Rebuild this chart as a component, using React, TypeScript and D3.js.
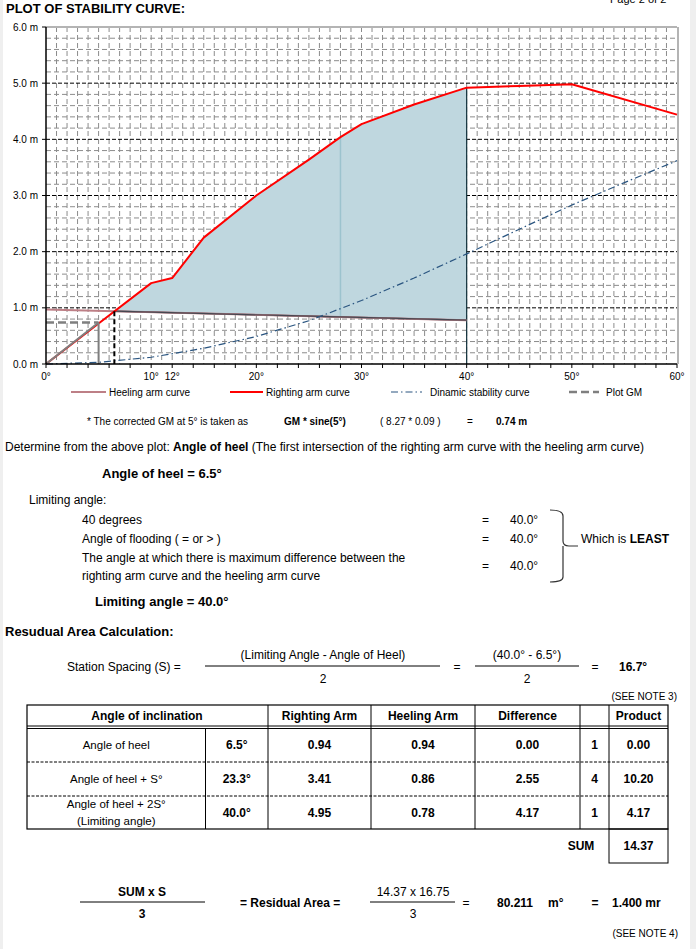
import React from 'react'
import * as d3 from 'd3'

// ---- chart data ----
const rightingAngles = [0, 5, 10, 12, 15, 20, 25, 28, 30, 35, 40, 45, 50, 60]
const rightingArm = [0, 0.72, 1.44, 1.53, 2.25, 3.0, 3.64, 4.04, 4.27, 4.62, 4.92, 4.95, 4.98, 4.44]

const heelingAngles = [0, 6.5, 23.3, 40]
const heelingArm = [0.97, 0.94, 0.86, 0.78]

const dynamicAngles = [0, 5, 10, 15, 20, 25, 30, 35, 40, 45, 50, 55, 60]
const dynamicStability = [0, 0.03, 0.12, 0.28, 0.49, 0.77, 1.13, 1.53, 1.96, 2.4, 2.83, 3.23, 3.62]

const gmAngle = 5
const gmValue = 0.74
const heelAngle = 6.5
const limitAngle = 40
const fillSeamAngle = 28

const xTickLabels = [0, 10, 12, 20, 30, 40, 50, 60]
const yTickLabels = [0, 1, 2, 3, 4, 5, 6]

// ---- table data ----
const rowLabels = [['Angle of heel'], ['Angle of heel + S°'], ['Angle of heel + 2S°', '(Limiting angle)']]
const rowAngles = ['6.5°', '23.3°', '40.0°']
const rowRighting = ['0.94', '3.41', '4.95']
const rowHeeling = ['0.94', '0.86', '0.78']
const rowDiff = ['0.00', '2.55', '4.17']
const rowSimpson = ['1', '4', '1']
const rowProduct = ['0.00', '10.20', '4.17']

const FONT = '"Liberation Sans", Arial, sans-serif'

const App: React.FC = () => {
  const W = 696
  const H = 949
  const x = d3.scaleLinear().domain([0, 60]).range([46, 677])
  const y = d3.scaleLinear().domain([0, 6]).range([364, 27])

  const line = d3
    .line<[number, number]>()
    .x((d) => x(d[0]))
    .y((d) => y(d[1]))

  const zip = (a: number[], b: number[]) => a.map((v, i) => [v, b[i]] as [number, number])
  const righting = zip(rightingAngles, rightingArm)
  const heeling = zip(heelingAngles, heelingArm)
  const dynamic = zip(dynamicAngles, dynamicStability)

  const interp = (xs: number[], ys: number[], t: number) => {
    for (let i = 0; i < xs.length - 1; i++) {
      if (t >= xs[i] && t <= xs[i + 1]) {
        return ys[i] + ((ys[i + 1] - ys[i]) * (t - xs[i])) / (xs[i + 1] - xs[i])
      }
    }
    return ys[ys.length - 1]
  }

  // residual area polygon between the two curves
  const areaTop: [number, number][] = [[heelAngle, interp(rightingAngles, rightingArm, heelAngle)]]
  rightingAngles.forEach((a, i) => {
    if (a > heelAngle && a < limitAngle) areaTop.push([a, rightingArm[i]])
  })
  areaTop.push([limitAngle, interp(rightingAngles, rightingArm, limitAngle)])
  const areaBottom: [number, number][] = heeling.filter((d) => d[0] >= heelAngle && d[0] <= limitAngle).reverse()
  const areaPath = line([...areaTop, ...areaBottom]) + 'Z'

  const minorX = d3.range(1, 60)
  const minorY = d3.range(0.2, 6, 0.2).filter((v) => Math.abs(v - Math.round(v)) > 0.01)
  const majorY = [1, 2, 3, 4, 5]
  const xTicks = d3.range(0, 61, 2)

  const t = (props: any, txt: any) => (
    <text fontFamily={FONT} fill="#000" {...props}>
      {txt}
    </text>
  )

  // table geometry
  const cols = [27, 205.5, 268, 371, 475, 580, 609, 668]
  const rowY = [728, 762, 796, 829]
  const cx = (i: number) => (cols[i] + cols[i + 1]) / 2

  return (
    <div style={{ position: 'absolute', left: 0, top: 0 }}>
      <svg width={W} height={H} style={{ display: 'block' }}>
        <rect x={0} y={0} width={W} height={H} fill="#fff" />
        <rect x={0} y={0} width={3} height={H} fill="#efefef" />
        <rect x={690} y={0} width={6} height={H} fill="#efefef" />

        {t({ x: 610, y: 3, fontSize: 11 }, 'Page 2 of 2')}
        {t({ x: 6, y: 13, fontSize: 13, fontWeight: 'bold' }, 'PLOT OF STABILITY CURVE:')}

        {/* grid */}
        <g>
          {minorX.map((a) => (
            <line key={'vx' + a} x1={x(a)} x2={x(a)} y1={y(6)} y2={y(0)} stroke="#8c8c8c" strokeWidth={1} strokeDasharray="5,3" />
          ))}
          {minorY.map((v) => (
            <line key={'hy' + v} x1={x(0)} x2={x(60)} y1={y(v)} y2={y(v)} stroke="#8c8c8c" strokeWidth={1} strokeDasharray="5,3" />
          ))}
          {majorY.map((v) => (
            <line key={'my' + v} x1={x(0)} x2={x(60)} y1={y(v)} y2={y(v)} stroke="#000" strokeWidth={1} strokeDasharray="4,2" />
          ))}
          <line x1={x(0)} x2={x(60)} y1={y(6)} y2={y(6)} stroke="#b4b4b4" strokeWidth={2} />
          <line x1={x(60) + 1} x2={x(60) + 1} y1={y(6)} y2={y(0)} stroke="#b4b4b4" strokeWidth={2} />
        </g>

        {/* residual area */}
        <path d={areaPath} fill="#bfd7df" />
        <line x1={x(fillSeamAngle)} x2={x(fillSeamAngle)} y1={y(interp(rightingAngles, rightingArm, fillSeamAngle))} y2={y(interp(heelingAngles, heelingArm, fillSeamAngle))} stroke="#9cc3ce" strokeWidth={1.5} />
        <path d={line(areaBottom) || ''} fill="none" stroke="#1c3640" strokeWidth={1.5} />
        <line x1={x(limitAngle)} x2={x(limitAngle)} y1={y(interp(rightingAngles, rightingArm, limitAngle))} y2={y(0)} stroke="#10303a" strokeWidth={1.2} />

        {/* heeling arm */}
        <path d={line(heeling) || ''} fill="none" stroke="#bd7f86" strokeWidth={2} />
        <path d={line(areaBottom) || ''} fill="none" stroke="#2a3a44" strokeWidth={1.2} opacity={0.8} />

        {/* dynamic stability */}
        <path d={line(dynamic) || ''} fill="none" stroke="#2a5580" strokeWidth={1.2} strokeDasharray="7,3,1.5,3" />

        {/* righting arm */}
        <path d={line(righting) || ''} fill="none" stroke="#ff0000" strokeWidth={2} strokeLinejoin="round" />

        {/* plot GM */}
        <line x1={x(0)} x2={x(gmAngle)} y1={y(0)} y2={y(gmValue)} stroke="#7f7f7f" strokeWidth={2} />
        <line x1={x(0)} x2={x(gmAngle)} y1={y(gmValue)} y2={y(gmValue)} stroke="#7f7f7f" strokeWidth={2.5} strokeDasharray="8,4" />
        <line x1={x(gmAngle)} x2={x(gmAngle)} y1={y(gmValue)} y2={y(0)} stroke="#7f7f7f" strokeWidth={2} />

        {/* angle of heel marker */}
        <line x1={x(heelAngle)} x2={x(heelAngle)} y1={y(interp(heelingAngles, heelingArm, heelAngle))} y2={y(0)} stroke="#000" strokeWidth={2} strokeDasharray="5,3" />

        {/* axes */}
        <line x1={x(0)} x2={x(0)} y1={y(6)} y2={y(0)} stroke="#000" strokeWidth={1.5} />
        <line x1={x(0)} x2={x(60)} y1={y(0)} y2={y(0)} stroke="#000" strokeWidth={1.5} />
        {xTicks.map((a) => (
          <line key={'xt' + a} x1={x(a)} x2={x(a)} y1={y(0)} y2={y(0) + 4} stroke="#000" />
        ))}
        {yTickLabels.map((v) => (
          <line key={'yt' + v} x1={x(0) - 4} x2={x(0)} y1={y(v)} y2={y(v)} stroke="#000" />
        ))}
        {xTickLabels.map((a) => (
          <text key={'xl' + a} x={x(a)} y={380} fontSize={10} fontFamily={FONT} textAnchor="middle">
            {a}°
          </text>
        ))}
        {yTickLabels.map((v) => (
          <text key={'yl' + v} x={38} y={y(v) + 3.5} fontSize={10} fontFamily={FONT} textAnchor="end">
            {v.toFixed(1)} m
          </text>
        ))}

        {/* legend */}
        <g fontFamily={FONT} fontSize={10}>
          <line x1={71} x2={106} y1={392} y2={392} stroke="#bd7f86" strokeWidth={2} />
          <text x={109} y={396}>Heeling arm curve</text>
          <line x1={230} x2={263} y1={392} y2={392} stroke="#ff0000" strokeWidth={2} />
          <text x={266} y={396}>Righting arm curve</text>
          <line x1={391} x2={422} y1={392} y2={392} stroke="#2a5580" strokeWidth={1.2} strokeDasharray="7,3,1.5,3" />
          <text x={430} y={396}>Dinamic stability curve</text>
          <line x1={569} x2={599} y1={392} y2={392} stroke="#7f7f7f" strokeWidth={2.5} strokeDasharray="8,4" />
          <text x={606} y={396}>Plot GM</text>
        </g>

        <g fontFamily={FONT} fontSize={10}>
          <text x={87} y={425}>* The corrected GM at 5° is taken as</text>
          <text x={284} y={425} fontWeight="bold">GM * sine(5°)</text>
          <text x={380} y={425}>( 8.27 * 0.09 )</text>
          <text x={467} y={425}>=</text>
          <text x={496} y={425} fontWeight="bold">0.74 m</text>
        </g>

        <g fontFamily={FONT} fontSize={12}>
          <text x={5} y={451}>
            Determine from the above plot: <tspan fontWeight="bold">Angle of heel</tspan> (The first intersection of the righting arm curve with the heeling arm curve)
          </text>
          <text x={102} y={478} fontWeight="bold" fontSize={13}>Angle of heel =  6.5°</text>
          <text x={29} y={504}>Limiting angle:</text>
          <text x={82} y={524}>40 degrees</text>
          <text x={82} y={543}>Angle of flooding ( = or &gt; )</text>
          <text x={82} y={562}>The angle at which there is maximum difference between the</text>
          <text x={82} y={580}>righting arm curve and the heeling arm curve</text>
          <text x={482} y={524}>=</text>
          <text x={482} y={543}>=</text>
          <text x={482} y={570}>=</text>
          <text x={510} y={524}>40.0°</text>
          <text x={510} y={543}>40.0°</text>
          <text x={510} y={570}>40.0°</text>
          <path d="M550,510 Q563,510 563,516 L563,541 Q563,546 569,546 L578,546 M563,546 L563,577 Q563,582 550,582" fill="none" stroke="#333" strokeWidth={1.2} />
          <text x={581} y={543}>
            Which is <tspan fontWeight="bold">LEAST</tspan>
          </text>
          <text x={95} y={606} fontWeight="bold" fontSize={13}>Limiting angle =  40.0°</text>
        </g>

        <g fontFamily={FONT} fontSize={12}>
          <text x={5} y={636} fontWeight="bold" fontSize={13}>Resudual Area Calculation:</text>
          <text x={67} y={671}>Station Spacing (S) =</text>
          <line x1={205} x2={440} y1={666} y2={666} stroke="#000" />
          <text x={323} y={659} textAnchor="middle">(Limiting Angle - Angle of Heel)</text>
          <text x={323} y={683} textAnchor="middle">2</text>
          <text x={457} y={671} textAnchor="middle">=</text>
          <line x1={475} x2={579} y1={666} y2={666} stroke="#000" />
          <text x={527} y={659} textAnchor="middle">(40.0° - 6.5°)</text>
          <text x={527} y={683} textAnchor="middle">2</text>
          <text x={595} y={671} textAnchor="middle">=</text>
          <text x={619} y={671} fontWeight="bold">16.7°</text>
          <text x={677} y={700} fontSize={10} textAnchor="end">(SEE NOTE 3)</text>
        </g>

        {/* table */}
        <g fontFamily={FONT} fontSize={12} stroke="none">
          <rect x={cols[0]} y={705} width={cols[7] - cols[0]} height={rowY[3] - 705} fill="none" stroke="#000" strokeWidth={1.2} />
          <line x1={cols[0]} x2={cols[7]} y1={726} y2={726} stroke="#000" />
          <line x1={cols[0]} x2={cols[7]} y1={728.5} y2={728.5} stroke="#000" />
          {[rowY[1], rowY[2]].map((yy) => (
            <line key={'rs' + yy} x1={cols[0]} x2={cols[7]} y1={yy} y2={yy} stroke="#000" strokeDasharray="3,1.5" />
          ))}
          {cols.slice(1, 7).map((c, i) => (
            <line key={'cl' + c} x1={c} x2={c} y1={i === 0 ? 728.5 : 705} y2={rowY[3]} stroke="#000" />
          ))}
          <rect x={cols[6]} y={rowY[3]} width={cols[7] - cols[6]} height={34} fill="none" stroke="#000" />

          <g fontWeight="bold" textAnchor="middle">
            <text x={147} y={720}>Angle of inclination</text>
            <text x={cx(2)} y={720}>Righting Arm</text>
            <text x={cx(3)} y={720}>Heeling Arm</text>
            <text x={cx(4)} y={720}>Difference</text>
            <text x={cx(6)} y={720}>Product</text>
          </g>
          {rowLabels.map((lbl, i) => {
            const mid = (rowY[i] + rowY[i + 1]) / 2
            return (
              <g key={'row' + i} textAnchor="middle">
                {lbl.map((l, j) => (
                  <text key={j} x={cx(0)} y={mid + 4 + (j - (lbl.length - 1) / 2) * 17} fontSize={11.5}>
                    {l}
                  </text>
                ))}
                <g fontWeight="bold">
                  <text x={cx(1)} y={mid + 4}>{rowAngles[i]}</text>
                  <text x={cx(2)} y={mid + 4}>{rowRighting[i]}</text>
                  <text x={cx(3)} y={mid + 4}>{rowHeeling[i]}</text>
                  <text x={cx(4)} y={mid + 4}>{rowDiff[i]}</text>
                  <text x={cx(5)} y={mid + 4}>{rowSimpson[i]}</text>
                  <text x={cx(6)} y={mid + 4}>{rowProduct[i]}</text>
                </g>
              </g>
            )
          })}
          <text x={581} y={850} fontWeight="bold" textAnchor="middle">SUM</text>
          <text x={cx(6)} y={850} fontWeight="bold" textAnchor="middle">14.37</text>
        </g>

        <g fontFamily={FONT} fontSize={12}>
          <text x={142} y={896} fontWeight="bold" textAnchor="middle">SUM x S</text>
          <line x1={80} x2={205} y1={902} y2={902} stroke="#000" />
          <text x={142} y={918} fontWeight="bold" textAnchor="middle">3</text>
          <text x={240} y={907} fontWeight="bold">= Residual Area =</text>
          <text x={413} y={896} textAnchor="middle">14.37 x 16.75</text>
          <line x1={370} x2={455} y1={902} y2={902} stroke="#000" />
          <text x={413} y={918} textAnchor="middle">3</text>
          <text x={466} y={907} textAnchor="middle">=</text>
          <text x={497} y={907} fontWeight="bold">80.211</text>
          <text x={548} y={907} fontWeight="bold">m°</text>
          <text x={595} y={907} fontWeight="bold" textAnchor="middle">=</text>
          <text x={612} y={907} fontWeight="bold">1.400 mr</text>
          <text x={678} y={937} fontSize={10} textAnchor="end">(SEE NOTE 4)</text>
        </g>
      </svg>
    </div>
  )
}

export default App
